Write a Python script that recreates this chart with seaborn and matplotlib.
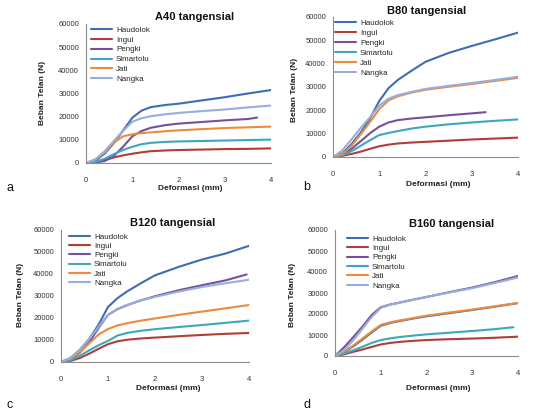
import numpy as np
import pandas as pd
import matplotlib
matplotlib.use("Agg")
import matplotlib.pyplot as plt
import seaborn as sns

# ******************* data (load in N vs deformation in mm)
kayu = ["Haudolok", "Ingul", "Pengki", "Simartolu", "Jati", "Nangka"]
warna = ["#3E6DB5", "#B23C38", "#75519C", "#3DA7BC", "#EE8A3C", "#98AEDB"]

x_grid = [0, 0.2, 0.4, 0.6, 0.8, 1.0, 1.2, 1.4, 1.7, 2.0, 2.5, 3.0, 3.5, 4.0]

# A40 tangensial
a40_haudolok = [0, 1000, 4000, 8500, 14000, 19500, 22600, 24100, 25000, 25600, 27000, 28400, 30000, 31500]
a40_ingul = [0, 300, 1200, 2400, 3300, 4000, 4600, 5100, 5400, 5600, 5800, 6000, 6100, 6300]
a40_pengki_x = [0, 0.2, 0.4, 0.6, 0.8, 1.0, 1.2, 1.4, 1.7, 2.0, 2.5, 3.0, 3.5, 3.7]
a40_pengki = [0, 300, 800, 3000, 7000, 11500, 13800, 15200, 16300, 17000, 17700, 18400, 19000, 19600]
a40_simartolu = [0, 500, 1800, 3800, 5600, 7000, 8100, 8700, 9100, 9300, 9500, 9700, 9900, 10100]
a40_jati = [0, 1500, 4500, 8800, 11500, 12400, 12900, 13200, 13700, 14100, 14600, 15100, 15400, 15700]
a40_nangka = [0, 1500, 5000, 9500, 13800, 17800, 19300, 20200, 21000, 21600, 22400, 23100, 24000, 24800]

# B80 tangensial
b80_haudolok = [0, 1500, 5500, 10500, 16500, 24000, 29500, 33000, 37000, 40800, 44600, 47600, 50400, 53300]
b80_ingul = [0, 500, 1300, 2300, 3500, 4600, 5300, 5800, 6200, 6500, 7000, 7500, 7900, 8300]
b80_pengki_x = [0, 0.2, 0.4, 0.6, 0.8, 1.0, 1.2, 1.4, 1.7, 2.0, 2.5, 3.0, 3.3]
b80_pengki = [0, 1000, 3500, 6800, 10200, 13000, 14800, 15800, 16500, 17000, 17900, 18700, 19200]
b80_simartolu = [0, 700, 2500, 4800, 7200, 9400, 10300, 11100, 12200, 13000, 14000, 14800, 15500, 16100]
b80_jati = [0, 1200, 4800, 9800, 15000, 20500, 24300, 26000, 27600, 28800, 30100, 31300, 32600, 33900]
b80_nangka = [0, 2800, 7500, 12500, 17000, 22000, 25000, 26500, 27900, 29200, 30500, 31700, 33000, 34400]

# B120 tangensial
b120_haudolok = [0, 1800, 5500, 10500, 17000, 25000, 29000, 32000, 35800, 39400, 43200, 46600, 49300, 52800]
b120_ingul = [0, 500, 1800, 3800, 6000, 8100, 9400, 10100, 10700, 11100, 11700, 12300, 12800, 13200]
b120_pengki_x = [0, 0.2, 0.4, 0.6, 0.8, 1.0, 1.2, 1.4, 1.7, 2.0, 2.5, 3.0, 3.5, 3.95]
b120_pengki = [0, 1200, 4200, 9000, 15500, 21400, 24000, 25800, 28000, 29900, 32600, 34900, 37100, 39800]
b120_simartolu = [0, 800, 2800, 5300, 7600, 9600, 12000, 13200, 14200, 14900, 15900, 16800, 17800, 18800]
b120_jati = [0, 1500, 4500, 8500, 12500, 15000, 16600, 17600, 18800, 19800, 21400, 22900, 24400, 25900]
b120_nangka = [0, 1800, 5500, 10500, 16000, 21400, 24200, 25900, 28000, 29600, 32000, 34100, 35800, 37400]

# B160 tangensial
b160_haudolok = [0, 1900, 4600, 7800, 11200, 14400, 15700, 16600, 17800, 18900, 20400, 21900, 23500, 25200]
b160_ingul = [0, 800, 2000, 3100, 4300, 5500, 6200, 6700, 7200, 7600, 8000, 8300, 8700, 9200]
b160_pengki = [0, 4200, 9000, 14000, 19500, 23200, 24500, 25400, 26800, 28100, 30400, 32600, 35200, 38100]
b160_simartolu_x = [0, 0.2, 0.4, 0.6, 0.8, 1.0, 1.2, 1.4, 1.7, 2.0, 2.5, 3.0, 3.5, 3.9]
b160_simartolu = [0, 1200, 2700, 4400, 6200, 7600, 8400, 9000, 9700, 10300, 11100, 11900, 12800, 13700]
b160_jati = [0, 2200, 5000, 8300, 11700, 14800, 16000, 16900, 18000, 19200, 20700, 22100, 23700, 25300]
b160_nangka = [0, 2800, 7500, 13000, 18500, 22900, 24400, 25300, 26700, 28100, 30200, 32300, 34800, 37400]

judul = ["A40 tangensial", "B80 tangensial", "B120 tangensial", "B160 tangensial"]
huruf = ["a", "b", "c", "d"]
y_ticks = [0, 10000, 20000, 30000, 40000, 50000, 60000]
x_ticks = [0, 1, 2, 3, 4]


def to_long(series):
    rows = []
    for name, xs, ys in series:
        for xv, yv in zip(xs, ys):
            rows.append({"Deformasi": xv, "Beban": yv, "Kayu": name})
    return pd.DataFrame(rows)


panels = [
    to_long([("Haudolok", x_grid, a40_haudolok), ("Ingul", x_grid, a40_ingul),
             ("Pengki", a40_pengki_x, a40_pengki), ("Simartolu", x_grid, a40_simartolu),
             ("Jati", x_grid, a40_jati), ("Nangka", x_grid, a40_nangka)]),
    to_long([("Haudolok", x_grid, b80_haudolok), ("Ingul", x_grid, b80_ingul),
             ("Pengki", b80_pengki_x, b80_pengki), ("Simartolu", x_grid, b80_simartolu),
             ("Jati", x_grid, b80_jati), ("Nangka", x_grid, b80_nangka)]),
    to_long([("Haudolok", x_grid, b120_haudolok), ("Ingul", x_grid, b120_ingul),
             ("Pengki", b120_pengki_x, b120_pengki), ("Simartolu", x_grid, b120_simartolu),
             ("Jati", x_grid, b120_jati), ("Nangka", x_grid, b120_nangka)]),
    to_long([("Haudolok", x_grid, b160_haudolok), ("Ingul", x_grid, b160_ingul),
             ("Pengki", x_grid, b160_pengki), ("Simartolu", b160_simartolu_x, b160_simartolu),
             ("Jati", x_grid, b160_jati), ("Nangka", x_grid, b160_nangka)]),
]

# ******************* layout (pixel positions measured on the 540x412 picture)
sns.set_style("white")
plt.rcParams["font.family"] = ["Liberation Sans", "DejaVu Sans"]

W, H = 540, 412
fig = plt.figure(figsize=(W / 100, H / 100), dpi=100)

# (x0, x4, y0, y60000) of each plot area
boxes = [(86, 271, 163, 24), (333, 518, 157, 17), (61, 249, 362, 230), (335, 518, 356, 230)]
title_pos = [(195, 17), (427, 11), (173, 223), (452, 224)]
xlabel_pos = [(190, 189), (438, 184), (168, 388), (438, 388)]
ylabel_pos = [(42, 93), (295, 90), (20, 295), (293, 295)]
letter_pos = [(10, 188), (307, 187), (10, 405), (307, 405)]
legend_pos = [(91, 26), (335, 19), (69, 233), (347, 235)]
legend_gap = [0.28, 0.3, 0.2, 0.22]

for i, df in enumerate(panels):
    x0, x4, y0, y6 = boxes[i]
    ax = fig.add_axes([x0 / W, 1 - y0 / H, (x4 - x0) / W, (y0 - y6) / H])
    sns.lineplot(data=df, x="Deformasi", y="Beban", hue="Kayu", hue_order=kayu,
                 palette=warna, linewidth=1.5, sort=False, ax=ax)
    ax.set_xlim(0, 4)
    ax.set_ylim(0, 60000)
    ax.set_xticks(x_ticks)
    ax.set_yticks(y_ticks)
    ax.set_xlabel("")
    ax.set_ylabel("")
    for s in ["top", "right"]:
        ax.spines[s].set_visible(False)
    for s in ["left", "bottom"]:
        ax.spines[s].set_color("#8C8C8C")
        ax.spines[s].set_linewidth(0.8)
    ax.tick_params(axis="both", direction="out", length=3, width=0.6, color="#8C8C8C",
                   labelsize=5.5, labelcolor="#333333")
    ax.tick_params(axis="x", pad=7)
    ax.tick_params(axis="y", pad=2)
    ax.patch.set_alpha(0)

    lx, ly = legend_pos[i]
    ax.legend(loc="upper left", bbox_to_anchor=(lx / W, 1 - ly / H), bbox_transform=fig.transFigure,
              frameon=False, fontsize=5.8, handlelength=2.6, handletextpad=0.5,
              labelspacing=legend_gap[i], borderpad=0, borderaxespad=0)

    tx, ty = title_pos[i]
    fig.text(tx / W, 1 - ty / H, judul[i], ha="center", va="center", fontsize=8,
             fontweight="bold", color="#111111")
    xx, xy = xlabel_pos[i]
    fig.text(xx / W, 1 - xy / H, "Deformasi (mm)", ha="center", va="center", fontsize=6,
             fontweight="bold", color="#222222")
    yx, yy = ylabel_pos[i]
    fig.text(yx / W, 1 - yy / H, "Beban Telan (N)", ha="center", va="center", fontsize=6,
             fontweight="bold", rotation=90, color="#222222")
    hx, hy = letter_pos[i]
    fig.text(hx / W, 1 - hy / H, huruf[i], ha="center", va="center", fontsize=9, color="#111111")

fig.savefig("out.png", dpi=100)
